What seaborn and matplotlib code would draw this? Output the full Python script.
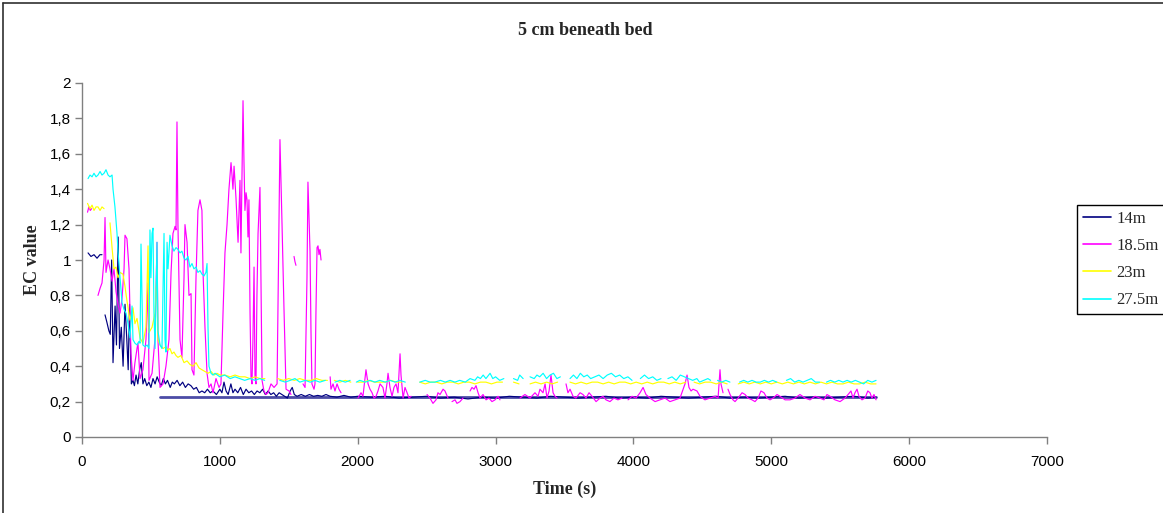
import matplotlib
matplotlib.use("Agg")
import matplotlib.pyplot as plt
from matplotlib.lines import Line2D
from matplotlib.ticker import FuncFormatter
import pandas as pd
import seaborn as sns

# ---------------------------------------------------------------------------
# EC records 5 cm beneath the bed at four stations.
# Each probe is stored as a list of continuous segments (gaps = logger drop-outs).
# ---------------------------------------------------------------------------
probe_names = ["14m", "18.5m", "23m", "27.5m"]
probe_colors = ["#000080", "#FF00FF", "#FFFF00", "#00FFFF"]

time_14m = [
    [44, 65, 87, 109, 130, 145],
    [167, 180, 195, 205, 215, 225, 240, 250, 262, 272, 285, 298, 312, 325, 335, 345,
     358, 370, 380, 392, 405, 418, 430, 442, 455, 470, 485, 500, 515, 530, 545, 560,
     575, 590, 605, 620, 640, 655, 670, 690, 710, 730, 750, 770, 790, 810, 830, 850,
     870, 890, 910, 930, 950, 975, 1000, 1015, 1030, 1045, 1060, 1080, 1095, 1110,
     1130, 1150, 1170, 1190, 1210, 1230, 1250, 1270, 1290, 1310, 1330, 1350, 1370,
     1390, 1410, 1430, 1450, 1470, 1490, 1510, 1525, 1540, 1560, 1590, 1620, 1650,
     1680, 1710, 1740, 1770, 1800, 1850, 1900, 1950, 2000,
     2100, 2200, 2300, 2400, 2500, 2600, 2700, 2800, 2900, 3000, 3100, 3200, 3300,
     3400, 3500, 3600, 3700, 3800, 3900, 4000, 4100, 4200, 4300, 4400, 4500, 4600,
     4700, 4800, 4900, 5000, 5100, 5200, 5300, 5400, 5500, 5600, 5700, 5760],
]
ec_14m = [
    [1.04, 1.02, 1.03, 1.01, 1.03, 1.03],
    [0.69, 0.65, 0.60, 0.58, 1.00, 0.42, 0.74, 0.52, 1.13, 0.50, 0.62, 0.40, 0.75, 0.55, 0.38, 0.75,
     0.30, 0.32, 0.29, 0.35, 0.30, 0.38, 0.42, 0.30, 0.33, 0.29, 0.31, 0.28, 0.33, 0.30, 0.34, 0.31,
     0.29, 0.33, 0.30, 0.32, 0.28, 0.31, 0.30, 0.32, 0.29, 0.31, 0.28, 0.30, 0.29, 0.27, 0.28, 0.25,
     0.26, 0.25, 0.27, 0.25, 0.26, 0.24, 0.27, 0.25, 0.31, 0.26, 0.24, 0.30, 0.25, 0.27,
     0.25, 0.28, 0.24, 0.27, 0.25, 0.26, 0.24, 0.26, 0.25, 0.27, 0.24, 0.26, 0.24,
     0.25, 0.23, 0.25, 0.24, 0.23, 0.22, 0.26, 0.28, 0.24, 0.23, 0.24, 0.23, 0.24,
     0.23, 0.235, 0.23, 0.24, 0.23, 0.225, 0.235, 0.225, 0.23,
     0.225, 0.23, 0.22, 0.225, 0.23, 0.22, 0.225, 0.215, 0.225, 0.22, 0.23, 0.225, 0.22,
     0.23, 0.225, 0.22, 0.225, 0.23, 0.22, 0.225, 0.22, 0.23, 0.225, 0.22, 0.225, 0.23,
     0.22, 0.225, 0.22, 0.225, 0.23, 0.22, 0.225, 0.22, 0.225, 0.23, 0.22, 0.225],
]
# steady 14m baseline reading carried across the run
time_14m_base = [565, 5760]
ec_14m_base = [0.225, 0.225]

time_18m = [
    [40, 50, 60, 70],
    [116, 131, 145, 160, 167, 174, 189, 203, 218, 232, 247, 261, 276, 290, 305, 312,
     326, 341, 355, 370, 384, 399, 406, 421, 442, 464, 479, 486, 508, 530, 544, 551,
     566, 588, 609, 631, 646, 660, 675, 682, 689, 696, 711, 725, 740, 747, 762, 776,
     791, 798, 812, 827, 841, 856, 870, 878, 892, 907, 921, 936, 950, 972, 994, 1008,
     1023, 1037, 1052, 1066, 1081, 1088, 1095, 1103, 1117, 1132, 1146, 1153, 1161,
     1168, 1175, 1182, 1190, 1197, 1204, 1211, 1219, 1226, 1233, 1240, 1248, 1255,
     1262, 1269, 1277, 1291, 1298, 1306, 1320, 1335, 1349, 1371, 1393, 1415, 1436,
     1451, 1465, 1480, 1502, 1516],
    [1538, 1545, 1552],
    [1603, 1618, 1632, 1639, 1654, 1661, 1668, 1683, 1690, 1697, 1705, 1712, 1719, 1726, 1734],
    [1800, 1806, 1821, 1835, 1850, 1864, 1879],
    [2002, 2024, 2038, 2060, 2075, 2089, 2104, 2118, 2133, 2147, 2162, 2183, 2198, 2212,
     2220, 2234, 2249, 2263, 2278, 2292, 2307, 2314, 2329, 2343, 2358, 2372, 2387],
    [2503, 2524, 2546, 2568, 2582, 2597, 2619, 2633, 2655],
    [2684, 2706, 2720, 2742, 2764],
    [2815, 2829, 2844, 2858, 2873, 2887, 2909, 2931, 2952, 2974, 2996, 3018, 3032],
    [3177, 3213, 3250, 3286, 3308, 3322, 3344, 3359, 3373, 3388, 3402, 3417, 3431, 3446],
    [3511, 3525, 3540, 3562, 3583, 3613, 3634, 3656, 3678, 3700, 3729, 3758, 3779, 3801,
     3830, 3859, 3888, 3917],
    [3961, 3990, 4019, 4048, 4070, 4091, 4120, 4157, 4193, 4229, 4265, 4302, 4338, 4374,
     4389, 4403, 4418, 4432, 4461, 4483, 4519, 4556, 4592, 4614, 4628, 4635, 4650],
    [4686, 4701, 4722, 4737, 4759, 4788, 4810, 4831, 4860, 4882, 4904, 4925, 4947, 4969,
     4991, 5013, 5042, 5063, 5100, 5136, 5172, 5208, 5245, 5281, 5317, 5353, 5382, 5404,
     5426, 5462, 5499, 5535, 5557, 5578, 5593, 5607, 5622, 5636, 5658, 5680, 5700, 5716,
     5730, 5745, 5760],
]
ec_18m = [
    [1.27, 1.30, 1.28, 1.29],
    [0.80, 0.84, 0.87, 1.00, 1.24, 0.93, 1.00, 0.95, 0.88, 0.95, 0.82, 0.75, 0.70, 0.78, 0.95, 1.14,
     1.12, 0.95, 0.47, 0.32, 0.42, 0.50, 0.53, 0.33, 0.38, 0.55, 0.87, 0.32, 0.36, 0.56, 1.10, 0.55,
     0.28, 0.30, 0.40, 0.55, 0.93, 1.15, 1.19, 1.17, 1.78, 1.20, 0.55, 0.45, 0.90, 1.20, 1.10, 0.80,
     0.81, 0.38, 0.35, 0.90, 1.28, 1.34, 1.28, 0.93, 0.62, 0.36, 0.28, 0.30, 0.25, 0.33, 0.28, 0.30,
     0.70, 1.04, 1.20, 1.40, 1.55, 1.48, 1.40, 1.53, 1.35, 1.10, 1.45, 1.04, 1.50,
     1.90, 1.55, 1.28, 1.38, 1.34, 1.13, 1.34, 0.70, 0.34, 0.30, 0.55, 0.96, 0.34,
     0.30, 0.80, 1.15, 1.41, 0.90, 0.32, 0.26, 0.24, 0.25, 0.30, 0.28, 0.30, 1.68,
     1.20, 0.73, 0.27, 0.26, 0.24],
    [1.02, 0.99, 0.97],
    [0.30, 0.28, 0.90, 1.44, 1.05, 0.60, 0.30, 0.27, 0.30, 0.70, 1.07, 1.08, 1.03, 1.06, 1.00],
    [0.34, 0.27, 0.30, 0.26, 0.30, 0.27, 0.25],
    [0.22, 0.25, 0.23, 0.38, 0.30, 0.27, 0.25, 0.22, 0.23, 0.26, 0.30, 0.28, 0.22, 0.30,
     0.36, 0.28, 0.23, 0.28, 0.30, 0.25, 0.47, 0.35, 0.22, 0.28, 0.25, 0.22, 0.23],
    [0.24, 0.22, 0.19, 0.21, 0.25, 0.24, 0.27, 0.26, 0.22],
    [0.20, 0.21, 0.19, 0.20, 0.22],
    [0.26, 0.28, 0.27, 0.29, 0.25, 0.22, 0.24, 0.21, 0.22, 0.20, 0.21, 0.23, 0.21],
    [0.22, 0.24, 0.22, 0.25, 0.23, 0.27, 0.25, 0.30, 0.22, 0.26, 0.35, 0.25, 0.23, 0.22],
    [0.30, 0.25, 0.27, 0.23, 0.22, 0.25, 0.24, 0.22, 0.25, 0.23, 0.20, 0.22, 0.23, 0.21,
     0.20, 0.22, 0.21, 0.22],
    [0.21, 0.23, 0.22, 0.25, 0.28, 0.24, 0.22, 0.20, 0.21, 0.22, 0.20, 0.21, 0.22, 0.30,
     0.35, 0.28, 0.26, 0.27, 0.26, 0.23, 0.21, 0.22, 0.23, 0.22, 0.38, 0.30, 0.25],
    [0.27, 0.24, 0.21, 0.20, 0.22, 0.25, 0.24, 0.22, 0.21, 0.20, 0.22, 0.26, 0.25, 0.22,
     0.21, 0.22, 0.24, 0.23, 0.21, 0.21, 0.22, 0.24, 0.22, 0.21, 0.23, 0.22, 0.21, 0.24,
     0.23, 0.21, 0.20, 0.22, 0.24, 0.26, 0.22, 0.25, 0.27, 0.23, 0.21, 0.22, 0.26, 0.25,
     0.22, 0.24, 0.21],
]

time_23m = [
    [40, 58, 73, 87, 102, 116, 131, 145, 160],
    [203, 218, 232, 247, 261, 276, 297, 312, 326, 348, 370, 384, 399, 421, 442, 464,
     479, 486, 508, 530, 544, 551, 566, 588, 609, 624, 638, 653, 667, 682, 696, 718,
     740, 762, 783, 805, 827, 849, 870, 892, 914, 936, 958, 979, 1001, 1037, 1074,
     1110, 1146, 1182, 1219, 1255, 1291, 1327],
    [1420, 1460, 1500, 1540, 1580, 1620, 1660, 1700, 1740, 1780],
    [1830, 1870, 1910, 1950],
    [2000, 2040, 2080, 2120, 2160, 2200, 2240, 2280, 2320],
    [2450, 2490, 2530, 2570, 2610, 2650, 2690, 2730, 2770, 2810, 2850, 2890, 2930, 2970,
     3010, 3050],
    [3130, 3170],
    [3250, 3290, 3330, 3370, 3410, 3450],
    [3540, 3580, 3620, 3660, 3700, 3740, 3780, 3820, 3860, 3900, 3940, 3980, 4020, 4060,
     4100, 4140, 4180, 4220, 4260, 4300, 4340, 4380],
    [4440, 4480, 4520, 4560, 4600, 4640, 4680],
    [4760, 4800, 4840, 4880, 4920, 4960, 5000, 5040, 5080, 5120, 5160, 5200, 5240, 5280,
     5320, 5360, 5400, 5440, 5480, 5520, 5560, 5600, 5640, 5680, 5720, 5760],
]
ec_23m = [
    [1.32, 1.29, 1.31, 1.28, 1.30, 1.30, 1.28, 1.30, 1.29],
    [1.21, 1.07, 0.95, 0.96, 0.90, 0.93, 0.92, 0.85, 0.77, 0.66, 0.73, 0.64, 0.67, 0.56, 0.53, 0.62,
     1.08, 0.59, 0.62, 0.70, 0.95, 0.55, 0.52, 0.50, 0.51, 0.49, 0.50, 0.47, 0.48, 0.46, 0.45, 0.46,
     0.42, 0.43, 0.41, 0.40, 0.42, 0.39, 0.38, 0.37, 0.36, 0.37, 0.35, 0.36, 0.35, 0.35, 0.34,
     0.35, 0.34, 0.34, 0.33, 0.34, 0.33, 0.33],
    [0.33, 0.32, 0.33, 0.32, 0.33, 0.32, 0.32, 0.33, 0.32, 0.32],
    [0.32, 0.31, 0.32, 0.31],
    [0.31, 0.31, 0.32, 0.31, 0.31, 0.31, 0.32, 0.31, 0.31],
    [0.31, 0.30, 0.31, 0.31, 0.30, 0.31, 0.31, 0.30, 0.31, 0.31, 0.30, 0.31, 0.31, 0.30,
     0.31, 0.31],
    [0.31, 0.30],
    [0.30, 0.31, 0.30, 0.31, 0.30, 0.31],
    [0.31, 0.30, 0.31, 0.30, 0.31, 0.31, 0.30, 0.31, 0.30, 0.31, 0.31, 0.30, 0.31, 0.30,
     0.31, 0.30, 0.31, 0.31, 0.30, 0.31, 0.30, 0.31],
    [0.31, 0.30, 0.31, 0.31, 0.30, 0.31, 0.30],
    [0.30, 0.31, 0.30, 0.31, 0.30, 0.31, 0.30, 0.31, 0.30, 0.31, 0.30, 0.31, 0.30, 0.31,
     0.30, 0.31, 0.30, 0.31, 0.30, 0.30, 0.31, 0.30, 0.30, 0.31, 0.30, 0.30],
]

time_27m = [
    [44, 58, 73, 87, 102, 116, 131, 145, 160, 174, 189, 203, 218, 225, 239, 254, 261,
     276, 290, 305, 319, 334, 348, 363, 370, 384, 399, 413, 421, 428, 435, 442, 457,
     472, 486, 493, 500, 508, 515, 522, 530, 544, 551, 566, 580, 595, 602, 609, 617,
     624, 638, 653, 667, 682, 696, 711, 725, 740, 754, 769, 783, 798, 812, 827, 841,
     856, 870, 885, 899, 907, 914, 921, 936, 950, 965, 1000, 1035, 1075, 1110, 1145,
     1180, 1220, 1255, 1290, 1325],
    [1435, 1475, 1510, 1545, 1580, 1620, 1655, 1690, 1725, 1765],
    [1835, 1870, 1910, 1945],
    [1990, 2015, 2055, 2090, 2125, 2160, 2200, 2235, 2270, 2305, 2345],
    [2450, 2490, 2525, 2560, 2600, 2635, 2670, 2705, 2740, 2780, 2815, 2850, 2870, 2890,
     2910, 2930, 2960, 2980, 3000, 3030, 3060],
    [3130, 3160, 3175, 3200],
    [3250, 3280, 3300, 3320, 3345, 3370, 3395, 3420, 3445, 3470],
    [3540, 3565, 3590, 3615, 3640, 3665, 3690, 3720, 3750, 3780, 3810, 3840, 3870, 3900,
     3930, 3960, 3990],
    [4050, 4080, 4110, 4140, 4170, 4200],
    [4250, 4280, 4310, 4340, 4370, 4400, 4430, 4460, 4480, 4510, 4540, 4560],
    [4610, 4640, 4670, 4700],
    [4770, 4800, 4830, 4860, 4890, 4920, 4950, 4980, 5010, 5040],
    [5110, 5140, 5170, 5200, 5230, 5260, 5290, 5320, 5350],
    [5400, 5430, 5460, 5490, 5520, 5550, 5580, 5610, 5640, 5670, 5700, 5730, 5760],
]
ec_27m = [
    [1.46, 1.48, 1.47, 1.49, 1.47, 1.48, 1.50, 1.48, 1.49, 1.51, 1.48, 1.47, 1.48, 1.40, 1.30, 1.15,
     1.05, 0.90, 0.76, 0.72, 0.70, 0.64, 0.56, 0.74, 0.55, 0.53, 0.52, 0.54, 0.53, 1.09, 0.80, 0.52,
     0.51, 0.52, 0.50, 1.17, 0.90, 1.15, 1.18, 0.70, 0.50, 1.10, 0.60, 0.52, 0.50, 1.15, 0.55, 0.48,
     1.10, 0.95, 1.14, 1.08, 1.05, 1.07, 1.06, 1.04, 1.05, 1.01, 1.00, 1.02, 0.96, 0.98, 0.95, 0.96,
     0.93, 0.94, 0.92, 0.91, 0.93, 0.98, 0.62, 0.40, 0.36, 0.35, 0.36, 0.34, 0.35, 0.33, 0.34, 0.33,
     0.32, 0.33, 0.32, 0.33, 0.32],
    [0.32, 0.31, 0.32, 0.33, 0.31, 0.32, 0.31, 0.32, 0.31, 0.32],
    [0.31, 0.32, 0.31, 0.32],
    [0.31, 0.32, 0.31, 0.32, 0.31, 0.32, 0.31, 0.32, 0.31, 0.32, 0.31],
    [0.31, 0.32, 0.31, 0.31, 0.32, 0.31, 0.32, 0.31, 0.32, 0.31, 0.33, 0.32, 0.34, 0.33,
     0.35, 0.33, 0.36, 0.33, 0.34, 0.32, 0.33],
    [0.33, 0.32, 0.35, 0.33],
    [0.34, 0.33, 0.35, 0.34, 0.36, 0.33, 0.35, 0.36, 0.33, 0.34],
    [0.33, 0.35, 0.33, 0.36, 0.34, 0.35, 0.33, 0.34, 0.35, 0.33, 0.35, 0.36, 0.34, 0.35,
     0.33, 0.34, 0.32],
    [0.33, 0.35, 0.33, 0.34, 0.32, 0.33],
    [0.33, 0.34, 0.32, 0.35, 0.34, 0.33, 0.32, 0.33, 0.31, 0.32, 0.33, 0.32],
    [0.32, 0.31, 0.32, 0.31],
    [0.31, 0.32, 0.31, 0.32, 0.31, 0.31, 0.32, 0.31, 0.32, 0.31],
    [0.32, 0.33, 0.31, 0.32, 0.31, 0.32, 0.33, 0.31, 0.31],
    [0.31, 0.32, 0.31, 0.32, 0.31, 0.32, 0.31, 0.32, 0.31, 0.30, 0.32, 0.31, 0.32],
]

x_ticks = [0, 1000, 2000, 3000, 4000, 5000, 6000, 7000]
y_ticks = [0, 0.2, 0.4, 0.6, 0.8, 1.0, 1.2, 1.4, 1.6, 1.8, 2.0]


def long_form(name, time_segments, ec_segments):
    rows = []
    for k, (ts, vs) in enumerate(zip(time_segments, ec_segments, strict=True)):
        for t, v in zip(ts, vs, strict=True):
            rows.append((name, f"{name}/{k}", t, v))
    return pd.DataFrame(rows, columns=["probe", "segment", "time", "ec"])


records = pd.concat([
    long_form("14m", time_14m, ec_14m),
    long_form("18.5m", time_18m, ec_18m),
    long_form("23m", time_23m, ec_23m),
    long_form("27.5m", time_27m, ec_27m),
], ignore_index=True)
baseline = long_form("14m", [time_14m_base], [ec_14m_base])

sns.set_style("white")
plt.rcParams["font.family"] = ["Liberation Sans", "DejaVu Sans"]
serif = ["Liberation Serif", "DejaVu Serif"]

W, H = 1163, 513
fig = plt.figure(figsize=(W / 100, H / 100), dpi=100)
ax = fig.add_axes([82 / W, 76 / H, 965 / W, 354 / H])

palette = dict(zip(probe_names, probe_colors))

# 14m baseline drawn first as a heavier band, then all probe traces over it
sns.lineplot(data=baseline, x="time", y="ec", hue="probe", units="segment",
             estimator=None, sort=False, palette=palette, linewidth=2.0, alpha=0.7,
             legend=False, ax=ax)
sns.lineplot(data=records, x="time", y="ec", hue="probe", units="segment",
             estimator=None, sort=False, hue_order=probe_names, palette=palette,
             linewidth=0.85, legend=False, ax=ax)

ax.set_xlim(0, 7000)
ax.set_ylim(0, 2)
ax.set_xticks(x_ticks)
ax.set_yticks(y_ticks)
ax.yaxis.set_major_formatter(FuncFormatter(lambda v, _: ("%g" % v).replace(".", ",")))
ax.xaxis.set_major_formatter(FuncFormatter(lambda v, _: "%d" % v))

for side in ("top", "right"):
    ax.spines[side].set_visible(False)
for side in ("left", "bottom"):
    ax.spines[side].set_color("#808080")
    ax.spines[side].set_linewidth(1.0)

ax.tick_params(axis="both", which="major", direction="out", length=5, width=1,
               color="#808080", labelsize=11, labelcolor="black",
               bottom=True, left=True)
ax.tick_params(axis="x", pad=8)
ax.tick_params(axis="y", pad=3)

ax.set_xlabel("Time (s)", family=serif, fontsize=13, fontweight="bold")
ax.set_ylabel("EC value", family=serif, fontsize=13, fontweight="bold")
ax.xaxis.set_label_coords(0.5, -44 / 354)
ax.yaxis.set_label_coords(-41 / 965, 0.5)

fig.text(585 / W, 1 - 31 / H, "5 cm beneath bed", family=serif, fontsize=13,
         fontweight="bold", ha="center", va="center")

handles = [Line2D([], [], color=c, linewidth=1.2) for c in probe_colors]
leg = fig.legend(handles, probe_names, loc="upper left",
                 bbox_to_anchor=(1077 / W, 1 - 205 / H), bbox_transform=fig.transFigure,
                 borderaxespad=0, frameon=True, fancybox=False, framealpha=1,
                 edgecolor="black", prop={"family": serif, "size": 12},
                 handlelength=1.7, handletextpad=0.3, labelspacing=0.67,
                 borderpad=0.35)
leg.get_frame().set_linewidth(1.0)

# outer chart-area border (top and left edges)
fig.add_artist(Line2D([3 / W, 1], [1 - 2.5 / H, 1 - 2.5 / H], transform=fig.transFigure,
                      color="#303030", linewidth=1.2))
fig.add_artist(Line2D([3 / W, 3 / W], [0, 1 - 2.5 / H], transform=fig.transFigure,
                      color="#303030", linewidth=1.2))

fig.savefig("out.png", dpi=100)
